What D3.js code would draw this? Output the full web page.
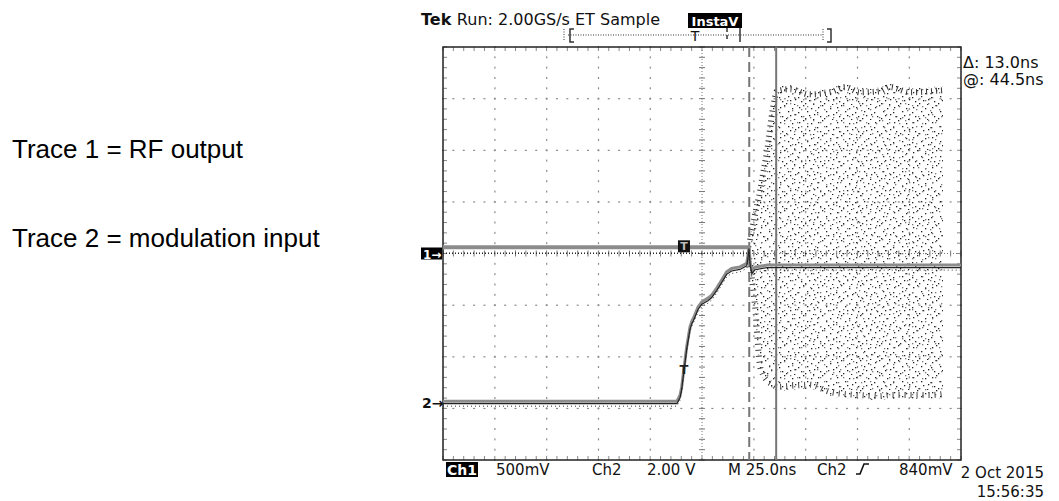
<!DOCTYPE html>
<html>
<head>
<meta charset="utf-8">
<script src="https://cdn.jsdelivr.net/npm/d3@7"></script>
<style>
  body { margin: 0; background: #fff; }
  svg { display: block; }
</style>
</head>
<body>
<svg id="scope" width="1059" height="501"></svg>
<script>
// Ch2 = modulation input (ns from trigger, volts)
var ch2Time  = [-116.3, -3.4, -1.9, -1.1, -0.3, 0.5, 1.3, 2.1, 2.9, 4.0, 4.5, 6.8, 8.6, 11.6, 13.4, 15.8, 18.2, 20.6, 23.0, 27.0, 30.3, 30.9, 31.4, 31.9, 32.8, 34.3, 40.1, 133.7];
var ch2Volts = [0.02, 0.02, 0.25, 0.57, 1.10, 1.61, 2.12, 2.51, 2.90, 3.16, 3.22, 3.67, 3.87, 4.01, 4.13, 4.40, 4.71, 5.03, 5.16, 5.22, 5.36, 5.68, 6.03, 5.41, 5.06, 5.21, 5.29, 5.29];

// Ch1 = RF output, idle part before the burst
var ch1Time  = [-116.3, 30.9];
var ch1Volts = [0.06, 0.06];

// Ch1 RF burst envelope (ns, volts)
var rfTime   = [31.9, 34.3, 36.7, 38.1, 40.1, 43.0, 44.9, 51.2, 60.8, 70.5, 77.7, 85.0, 94.6, 99.4, 109.1, 118.7, 125.0];
var rfTop    = [0.17, 0.42, 0.64, 0.80, 1.03, 1.45, 1.61, 1.63, 1.58, 1.60, 1.65, 1.60, 1.61, 1.65, 1.60, 1.61, 1.62];
var rfBottom = [-0.16, -0.55, -1.13, -1.21, -1.27, -1.31, -1.33, -1.32, -1.31, -1.38, -1.40, -1.41, -1.42, -1.41, -1.41, -1.41, -1.40];

// cursors (ns from trigger)
var cursorTimes = [31.5, 44.5];

// text
var headerText = "Run: 2.00GS/s ET Sample";
var cursorReadouts = ["\u0394: 13.0ns", "@: 44.5ns"];
var bottomLabels = ["500mV", "Ch2", "2.00 V", "M 25.0ns", "Ch2", "840mV"];
var dateLabels = ["2 Oct 2015", "15:56:35"];
var traceNotes = ["Trace 1 = RF output", "Trace 2 = modulation input"];

var ch1VoltsPerDiv = 0.5, ch2VoltsPerDiv = 2.0, ch2OffsetDiv = -2.87;

var svg = d3.select("#scope");
var defs = svg.append("defs");

// scales: 10 divisions x 25ns, 8 vertical divisions
var x = d3.scaleLinear().domain([-116.3, 133.7]).range([443, 961]);
var yDiv = d3.scaleLinear().domain([-4, 4]).range([460, 47]);
function y1(v) { return yDiv(v / ch1VoltsPerDiv); }
function y2(v) { return yDiv(v / ch2VoltsPerDiv + ch2OffsetDiv); }

var t0 = x.domain()[0];
var divTimes = d3.range(0, 11).map(function(i) { return t0 + i * 25; });
var minorTimes = d3.range(0, 51).map(function(i) { return t0 + i * 5; });
var divLevels = d3.range(-4, 5);
var minorLevels = d3.range(0, 41).map(function(i) { return -4 + i * 0.2; });

var grid = svg.append("g").attr("class", "grid");

// dotted graticule lines
divTimes.slice(1, -1).forEach(function(t, i) {
    if (i === 4) return;
    grid.selectAll(null).data(minorLevels).enter().append("rect")
        .attr("x", x(t) - 0.5).attr("y", function(d) { return yDiv(d) - 1; })
        .attr("width", 1.2).attr("height", 2).attr("fill", "#8a8a8a");
});
divLevels.slice(1, -1).forEach(function(l) {
    if (l === 0) return;
    grid.selectAll(null).data(minorTimes).enter().append("rect")
        .attr("x", function(d) { return x(d) - 1; }).attr("y", yDiv(l) - 0.5)
        .attr("width", 2).attr("height", 1.2).attr("fill", "#8a8a8a");
});

// centre cross with ticks
var xc = x(divTimes[5]), yc = yDiv(0);
grid.append("line").attr("x1", xc).attr("x2", xc).attr("y1", 47).attr("y2", 460)
    .attr("stroke", "#777").attr("stroke-dasharray", "1,2");
grid.append("line").attr("x1", 443).attr("x2", 961).attr("y1", yc).attr("y2", yc)
    .attr("stroke", "#777").attr("stroke-dasharray", "1,2");
grid.selectAll(null).data(minorLevels).enter().append("line")
    .attr("x1", xc - 3).attr("x2", xc + 3)
    .attr("y1", function(d) { return yDiv(d); }).attr("y2", function(d) { return yDiv(d); })
    .attr("stroke", "#777");
grid.selectAll(null).data(minorTimes).enter().append("line")
    .attr("y1", yc - 3).attr("y2", yc + 3)
    .attr("x1", function(d) { return x(d); }).attr("x2", function(d) { return x(d); })
    .attr("stroke", "#777");

// edge ticks
grid.selectAll(null).data(minorTimes).enter().append("line")
    .attr("x1", function(d) { return x(d); }).attr("x2", function(d) { return x(d); })
    .attr("y1", 47).attr("y2", 51).attr("stroke", "#888");
grid.selectAll(null).data(minorTimes).enter().append("line")
    .attr("x1", function(d) { return x(d); }).attr("x2", function(d) { return x(d); })
    .attr("y1", 456).attr("y2", 460).attr("stroke", "#888");
grid.selectAll(null).data(minorLevels).enter().append("line")
    .attr("y1", function(d) { return yDiv(d); }).attr("y2", function(d) { return yDiv(d); })
    .attr("x1", 443).attr("x2", 447).attr("stroke", "#888");
grid.selectAll(null).data(minorLevels).enter().append("line")
    .attr("y1", function(d) { return yDiv(d); }).attr("y2", function(d) { return yDiv(d); })
    .attr("x1", 957).attr("x2", 961).attr("stroke", "#888");

// frame
svg.append("rect").attr("x", 443).attr("y", 47).attr("width", 518).attr("height", 413)
    .attr("fill", "none").attr("stroke", "#222").attr("stroke-width", 1.5);

// speckle textures for the RF burst
function speckle(id, w, h, dots, color) {
    var p = defs.append("pattern").attr("id", id).attr("patternUnits", "userSpaceOnUse")
        .attr("width", w).attr("height", h);
    dots.forEach(function(d) {
        p.append("rect").attr("x", d[0]).attr("y", d[1]).attr("width", 1.3).attr("height", 1.3).attr("fill", color);
    });
}
speckle("spA", 19, 15, [[1,2],[5,0],[9,6],[13,3],[16,9],[3,11],[7,13],[11,10],[15,14],[0,7]], "#222");
speckle("spB", 23, 17, [[2,4],[8,1],[12,12],[19,7],[5,15],[15,3],[21,14],[10,8]], "#777");

var rf = rfTime.map(function(t, i) { return { t: t, top: rfTop[i], bot: rfBottom[i] }; });
var rfArea = d3.area()
    .x(function(d) { return x(d.t); })
    .y0(function(d) { return y1(d.bot); })
    .y1(function(d) { return y1(d.top); })
    .curve(d3.curveMonotoneX);
svg.append("path").datum(rf).attr("d", rfArea).attr("fill", "url(#spA)");
svg.append("path").datum(rf).attr("d", rfArea).attr("fill", "url(#spB)");

// denser dots along the envelope edges
var edgeTop = d3.line().x(function(d) { return x(d.t); }).y(function(d) { return y1(d.top) + 4; }).curve(d3.curveMonotoneX);
var edgeBot = d3.line().x(function(d) { return x(d.t); }).y(function(d) { return y1(d.bot) - 4; }).curve(d3.curveMonotoneX);
svg.append("path").datum(rf).attr("d", edgeTop).attr("fill", "none")
    .attr("stroke", "#333").attr("stroke-width", 6).attr("stroke-dasharray", "1,4");
svg.append("path").datum(rf).attr("d", edgeBot).attr("fill", "none")
    .attr("stroke", "#444").attr("stroke-width", 6).attr("stroke-dasharray", "1,5");

// cursors
svg.append("line").attr("x1", x(cursorTimes[0])).attr("x2", x(cursorTimes[0]))
    .attr("y1", 47).attr("y2", 460).attr("stroke", "#777").attr("stroke-width", 2)
    .attr("stroke-dasharray", "10,5");
svg.append("line").attr("x1", x(cursorTimes[1])).attr("x2", x(cursorTimes[1]))
    .attr("y1", 47).attr("y2", 460).attr("stroke", "#777").attr("stroke-width", 2);

// traces
var ch1 = ch1Time.map(function(t, i) { return { t: t, v: ch1Volts[i] }; });
var ch2 = ch2Time.map(function(t, i) { return { t: t, v: ch2Volts[i] }; });
var line1 = d3.line().x(function(d) { return x(d.t); }).y(function(d) { return y1(d.v); });
var line2 = d3.line().x(function(d) { return x(d.t); }).y(function(d) { return y2(d.v); });

svg.append("path").datum(ch1).attr("d", line1).attr("fill", "none")
    .attr("stroke", "#8c8c8c").attr("stroke-width", 4);
svg.append("path").datum(ch1).attr("d", line1).attr("fill", "none")
    .attr("stroke", "#222").attr("stroke-width", 1.5).attr("stroke-dasharray", "1,2")
    .attr("transform", "translate(0,6)");

svg.append("path").datum(ch2).attr("d", line2).attr("fill", "none")
    .attr("stroke", "#8c8c8c").attr("stroke-width", 3);
svg.append("path").datum(ch2).attr("d", line2).attr("fill", "none")
    .attr("stroke", "#222").attr("stroke-width", 1.2).attr("transform", "translate(0,2.5)");
svg.append("path").datum(ch2).attr("d", line2).attr("fill", "none")
    .attr("stroke", "#333").attr("stroke-width", 1).attr("stroke-dasharray", "1,3")
    .attr("transform", "translate(0,5)");

// trigger markers
svg.append("rect").attr("x", x(0) - 6).attr("y", y1(0.06) - 7).attr("width", 12).attr("height", 12).attr("fill", "#111");
svg.append("text").attr("x", x(0)).attr("y", y1(0.06) + 3).attr("text-anchor", "middle")
    .attr("font-family", "DejaVu Sans").attr("font-weight", "bold").attr("font-size", 11)
    .attr("fill", "#bbb").text("T");
svg.append("text").attr("x", x(0)).attr("y", y2(1.1) + 1).attr("text-anchor", "middle")
    .attr("font-family", "DejaVu Sans").attr("font-weight", "bold").attr("font-size", 13)
    .attr("fill", "#222").text("T");

// channel ground markers
svg.append("rect").attr("x", 421).attr("y", y1(0) - 6).attr("width", 21).attr("height", 12).attr("fill", "#000");
svg.append("text").attr("x", 423).attr("y", y1(0) + 5).attr("font-family", "DejaVu Sans")
    .attr("font-weight", "bold").attr("font-size", 12).attr("fill", "#fff").text("1\u2192");
svg.append("text").attr("x", 422).attr("y", y2(0) + 6).attr("font-family", "DejaVu Sans")
    .attr("font-weight", "bold").attr("font-size", 14).attr("fill", "#111").text("2\u2192");

var scopeFont = "DejaVu Sans";

// header
svg.append("text").attr("x", 421).attr("y", 25).attr("font-family", scopeFont).attr("font-size", 16)
    .attr("fill", "#111")
    .call(function(t) {
        t.append("tspan").attr("font-weight", "bold").text("Tek ");
        t.append("tspan").text(headerText);
    });
svg.append("rect").attr("x", 688).attr("y", 13).attr("width", 54).attr("height", 15).attr("fill", "#000");
svg.append("text").attr("x", 715).attr("y", 26).attr("text-anchor", "middle").attr("font-family", scopeFont)
    .attr("font-weight", "bold").attr("font-size", 13).attr("fill", "#fff").text("InstaV");

// record bracket
var rec = svg.append("g").attr("stroke", "#333");
rec.append("line").attr("x1", 568).attr("x2", 823).attr("y1", 35).attr("y2", 35).attr("stroke-dasharray", "1,1.5");
rec.append("line").attr("x1", 564).attr("x2", 564).attr("y1", 29).attr("y2", 41).attr("stroke-dasharray", "1,1.5");
rec.append("line").attr("x1", 823).attr("x2", 823).attr("y1", 29).attr("y2", 41).attr("stroke-dasharray", "1,1.5");
rec.append("path").attr("d", "M574,29 H570 V42 H574").attr("fill", "none").attr("stroke-width", 1.5);
rec.append("path").attr("d", "M827,29 H831 V42 H827").attr("fill", "none").attr("stroke-width", 1.5);
rec.append("line").attr("x1", 727).attr("x2", 727).attr("y1", 28).attr("y2", 42).attr("stroke-dasharray", "4,3").attr("stroke-width", 1.5);
rec.append("line").attr("x1", 740).attr("x2", 740).attr("y1", 28).attr("y2", 42).attr("stroke-width", 1.5);
svg.append("text").attr("x", 695).attr("y", 41).attr("text-anchor", "middle").attr("font-family", scopeFont)
    .attr("font-size", 14).attr("fill", "#111").text("T");

// cursor readouts
svg.selectAll(".readout").data(cursorReadouts).enter().append("text")
    .attr("class", "readout").attr("x", 963).attr("y", function(d, i) { return 68 + i * 17; })
    .attr("font-family", scopeFont).attr("font-size", 16).attr("fill", "#111")
    .text(function(d) { return d; });

// bottom status line
svg.append("rect").attr("x", 446).attr("y", 462).attr("width", 32).attr("height", 15).attr("fill", "#000");
svg.append("text").attr("x", 462).attr("y", 475).attr("text-anchor", "middle").attr("font-family", scopeFont)
    .attr("font-weight", "bold").attr("font-size", 14).attr("fill", "#fff").text("Ch1");
var bottomX = [496, 592, 647, 728, 817, 899];
svg.selectAll(".status").data(bottomLabels).enter().append("text")
    .attr("class", "status").attr("x", function(d, i) { return bottomX[i]; }).attr("y", 475)
    .attr("font-family", scopeFont).attr("font-size", 15).attr("fill", "#111")
    .text(function(d) { return d; });
svg.append("path").attr("d", "M856,474 H860 L864,464 H869").attr("fill", "none")
    .attr("stroke", "#111").attr("stroke-width", 1.6);

// date / time
svg.selectAll(".date").data(dateLabels).enter().append("text")
    .attr("class", "date").attr("x", 1044).attr("y", function(d, i) { return 478 + i * 19; })
    .attr("text-anchor", "end").attr("font-family", scopeFont).attr("font-size", 15).attr("fill", "#111")
    .text(function(d) { return d; });

// notes on the left
svg.selectAll(".note").data(traceNotes).enter().append("text")
    .attr("class", "note").attr("x", 12).attr("y", function(d, i) { return 158 + i * 89; })
    .attr("font-family", "Liberation Sans, Arial, sans-serif").attr("font-size", 26).attr("fill", "#000")
    .text(function(d) { return d; });
</script>
</body>
</html>
